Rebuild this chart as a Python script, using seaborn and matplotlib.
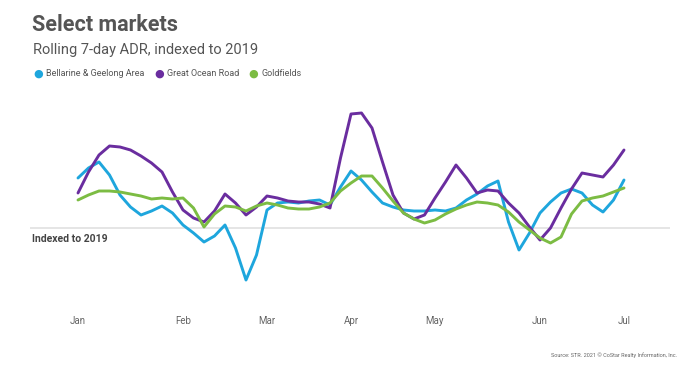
import numpy as np
import pandas as pd
import seaborn as sns
import matplotlib.pyplot as plt

# half-week steps from the start of Jan (x in weeks)
weeks = np.arange(53) * 0.5

# rolling 7-day ADR, index points vs 2019 (0 = 2019 level)
bellarine = [50, 60, 66, 53, 33, 21, 13, 17, 22, 15, 3, -5, -14, -8, 3, -20,
             -52, -27, 18, 25, 26, 25, 27, 28, 23, 41, 57, 48, 36, 25, 21, 18,
             17, 17, 18, 17, 20, 28, 34, 42, 47, 6, -22, -5, 15, 26, 35, 39,
             35, 23, 16, 28, 48]
great_ocean = [35, 56, 73, 82, 81, 78, 72, 65, 56, 36, 18, 10, 6, 17, 34, 25,
               13, 21, 32, 30, 27, 26, 26, 24, 20, 70, 114, 115, 100, 66, 33,
               15, 9, 13, 30, 46, 63, 50, 35, 38, 37, 25, 15, 1, -12, 0, 20,
               39, 55, 53, 51, 63, 78]
goldfields = [28, 33, 37, 37, 36, 34, 32, 29, 30, 29, 30, 20, 1, 14, 22, 21,
              17, 22, 25, 23, 20, 19, 19, 21, 25, 37, 45, 52, 52, 40, 27, 15,
              9, 5, 8, 14, 19, 23, 26, 25, 23, 16, 6, -2, -10, -15, -9, 14, 27,
              30, 32, 36, 40]

series = ["Bellarine & Geelong Area", "Great Ocean Road", "Goldfields"]
colors = ["#1ea6dd", "#6a2d9f", "#7cbc43"]

month_labels = ["Jan", "Feb", "Mar", "Apr", "May", "Jun", "Jul"]
month_weeks = [0, 5, 9, 13, 17, 22, 26]

df = pd.DataFrame({"week": weeks,
                   series[0]: bellarine,
                   series[1]: great_ocean,
                   series[2]: goldfields})
long_df = df.melt(id_vars="week", var_name="market", value_name="index")

sns.set_theme(style="white")
plt.rcParams["font.family"] = ["Roboto", "DejaVu Sans"]

fig = plt.figure(figsize=(7, 3.67), dpi=100)
ax = fig.add_axes([30 / 700, 77 / 367, 640 / 700, 190 / 367])

ax.axhline(0, color="#e3e3e3", lw=1.3, zorder=0)
sns.lineplot(data=long_df, x="week", y="index", hue="market",
             hue_order=series, palette=colors, lw=2.1, legend=False, ax=ax)
for ln in ax.get_lines():
    ln.set_solid_joinstyle("round")

ax.set_xlim(-48 / 21, 592 / 21)
ax.set_ylim(-62, 128)
sns.despine(ax=ax, left=True, bottom=True)
ax.set_yticks([])
ax.set_xticks(month_weeks)
ax.set_xticklabels(month_labels, color="#666666", fontsize=7)
ax.tick_params(axis="x", length=0, pad=19)
ax.set_xlabel("")
ax.set_ylabel("")

ax.text(2 / 640, -11, "Indexed to 2019", transform=ax.get_yaxis_transform(),
        fontsize=7.5, color="#444444", fontweight="bold", va="center")

fig.text(32 / 700, 1 - 25 / 367, "Select markets", fontsize=15.5,
         fontweight="bold", color="#555555", va="center")
fig.text(33 / 700, 1 - 50 / 367, "Rolling 7-day ADR, indexed to 2019",
         fontsize=10.5, color="#555555", va="center")

leg_x = [38, 159, 253]
for name, c, lx in zip(series, colors, leg_x):
    fig.text(lx / 700, 1 - 74 / 367, "\u25cf", color=c, fontsize=8,
             va="center", ha="center", family=["DejaVu Sans"])
    fig.text((lx + 8) / 700, 1 - 74 / 367, name, color="#555555",
             fontsize=6.5, va="center")

fig.text(677 / 700, 1 - 355 / 367,
         "Source: STR. 2021 \u00a9 CoStar Realty Information, Inc.",
         fontsize=4, color="#666666", ha="right", va="center")

fig.savefig("out.png", dpi=100)
